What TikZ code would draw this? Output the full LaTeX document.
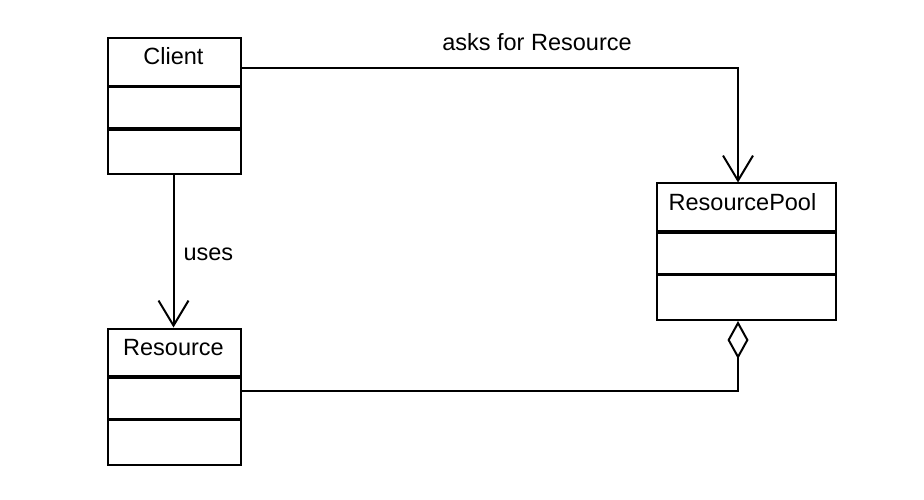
\documentclass[tikz,border=0pt]{standalone}
\usepackage{fontspec}
\setmainfont{Liberation Sans}
\usetikzlibrary{arrows.meta,calc}
\begin{document}
\begin{tikzpicture}[x=1pt,y=-1pt,
  classbox/.style={draw,line width=2pt,minimum height=136.5pt,anchor=north west,inner sep=0pt},
  divider/.style={line width=3.4pt},
  conn/.style={line width=2pt},
  lbl/.style={font=\fontsize{23.5}{27}\selectfont,anchor=base,inner sep=0pt},
  openarrow/.style={-{Straight Barb[length=25pt,width=30pt]}},
  aggr/.style={-{Diamond[open,length=38pt,width=21pt]}}]
\useasboundingbox (0,0) rectangle (924,500);
% classes
\node[classbox,minimum width=133pt] (client) at (107,37) {};
\node[classbox,minimum width=133pt] (resource) at (107,327.5) {};
\node[classbox,minimum width=179pt] (pool) at (656,182.5) {};
% dividers
\foreach \b in {client,resource,pool}{
  \draw[divider] ($(\b.north west)+(0,49.5)$) -- ($(\b.north east)+(0,49.5)$);
  \draw[divider] ($(\b.north west)+(0,92)$) -- ($(\b.north east)+(0,92)$);
}
% names
\node[lbl] (clientname) at ($(client.north)+(-1,28)$) {Client};
\node[lbl] (resourcename) at ($(resource.north)+(-1,28)$) {Resource};
\node[lbl] (poolname) at ($(pool.north)+(-4,28)$) {ResourcePool};
% connectors
\draw[conn,openarrow] ([xshift=-1pt]client.south) -- node[lbl,anchor=base west,pos=0.5,xshift=9pt,yshift=-9pt] (uses) {uses} ([xshift=-1pt]resource.north);
\draw[conn,openarrow] ([yshift=-31.5pt]client.north east) -| ([xshift=-8.5pt]pool.north);
\draw[conn,aggr] ([yshift=-63.5pt]resource.north east) -| ([xshift=-8.5pt]pool.south);
% label
\node[lbl] (asks) at (537,51) {asks for Resource};
\end{tikzpicture}
\end{document}
